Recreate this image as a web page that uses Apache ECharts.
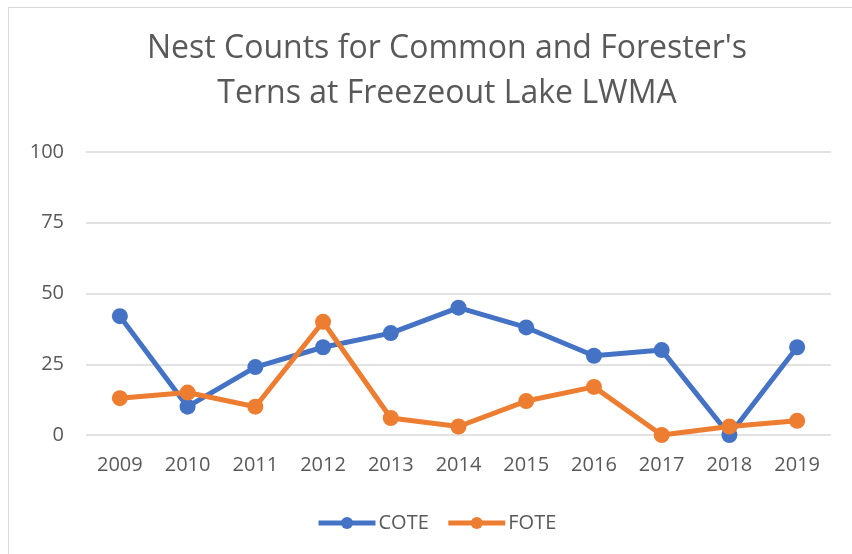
<!DOCTYPE html>
<html><head><meta charset="utf-8">
<script src="https://cdn.jsdelivr.net/npm/echarts@6/dist/echarts.min.js"></script>
<style>
html,body{margin:0;padding:0;background:#fff;}
#frame{position:absolute;left:8px;top:7px;width:860px;height:560px;border:1.5px solid #d9d9d9;box-sizing:border-box;}
#c{position:absolute;left:0;top:0;width:852px;height:554px;}
</style></head>
<body>
<div id="frame"></div>
<div id="c"></div>
<script>
const years = ['2009','2010','2011','2012','2013','2014','2015','2016','2017','2018','2019'];
const cote = [42,10,24,31,36,45,38,28,30,0,31];
const fote = [13,15,10,40,6,3,12,17,0,3,5];
const yTicks = [0,25,50,75,100];

const chart = echarts.init(document.getElementById('c'));
const font = 'Open Sans';
chart.setOption({
  animation:false,
  title:{
    text:"Nest Counts for Common and Forester's\nTerns at Freezeout Lake LWMA",
    left:442, top:21, textAlign:'center',
    textStyle:{fontFamily:font,fontSize:32,fontWeight:'normal',color:'#595959',lineHeight:45}
  },
  legend:{
    data:['COTE','FOTE'], left:311, top:508, itemWidth:57, itemHeight:15, itemGap:17,
    lineStyle:{width:5},
    textStyle:{fontFamily:font,fontSize:20,color:'#595959',padding:[0,0,0,-2]}
  },
  grid:{left:86,right:21,top:152,bottom:119},
  xAxis:{
    type:'category', data:years, boundaryGap:true,
    axisLine:{show:false}, axisTick:{show:false},
    axisLabel:{fontFamily:font,fontSize:20,color:'#595959',margin:20}
  },
  yAxis:{
    type:'value', min:yTicks[0], max:yTicks[yTicks.length-1], interval:25,
    axisLine:{show:false}, axisTick:{show:false},
    axisLabel:{fontFamily:font,fontSize:20,color:'#595959',margin:22},
    splitLine:{lineStyle:{color:'#d9d9d9',width:1.5}}
  },
  series:[
    {name:'COTE',type:'line',data:cote,symbol:'circle',symbolSize:16,
     lineStyle:{width:5,color:'#4472C4'},itemStyle:{color:'#4472C4'}},
    {name:'FOTE',type:'line',data:fote,symbol:'circle',symbolSize:16,
     lineStyle:{width:5,color:'#ED7D31'},itemStyle:{color:'#ED7D31'}}
  ]
});
</script>
</body></html>
